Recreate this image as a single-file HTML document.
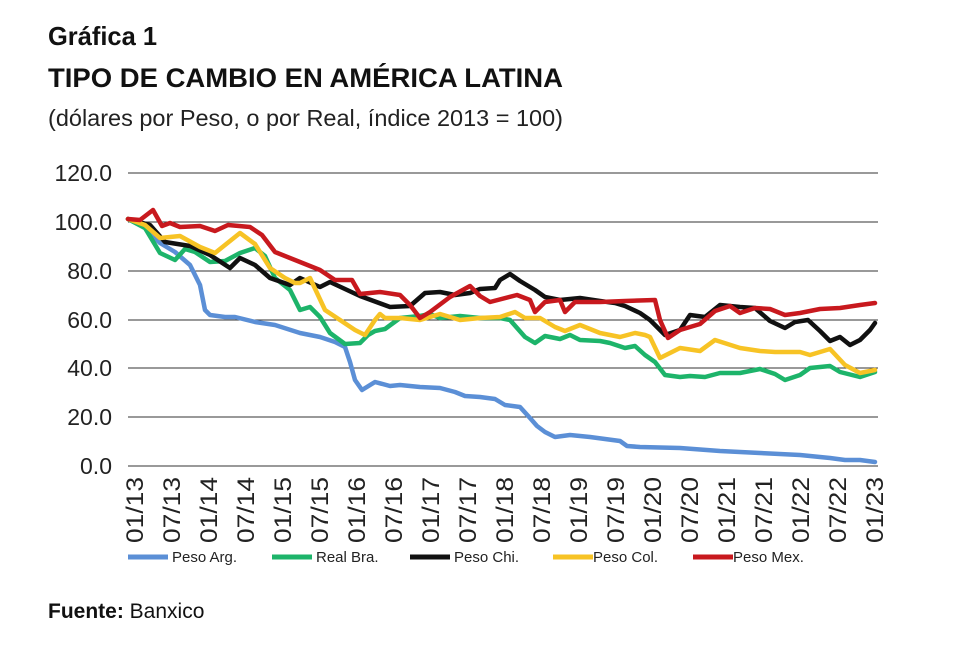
<!DOCTYPE html>
<html><head><meta charset="utf-8"><style>
body{margin:0;background:#fff;width:960px;height:640px;overflow:hidden;font-family:"Liberation Sans",sans-serif;}
</style></head><body>
<svg width="960" height="640" xmlns="http://www.w3.org/2000/svg" font-family="Liberation Sans, sans-serif">
<text x="48" y="45" font-size="26" font-weight="bold" fill="#111" textLength="109" lengthAdjust="spacingAndGlyphs">Gráfica 1</text>
<text x="48" y="87" font-size="27" font-weight="bold" fill="#111" textLength="515" lengthAdjust="spacingAndGlyphs">TIPO DE CAMBIO EN AMÉRICA LATINA</text>
<text x="48" y="126" font-size="23" fill="#222" textLength="515" lengthAdjust="spacingAndGlyphs">(dólares por Peso, o por Real, índice 2013 = 100)</text>
<g stroke="#333" stroke-width="1">
<line x1="128" x2="878" y1="173" y2="173"/><line x1="128" x2="878" y1="222" y2="222"/>
<line x1="128" x2="878" y1="271" y2="271"/><line x1="128" x2="878" y1="320" y2="320"/>
<line x1="128" x2="878" y1="368" y2="368"/><line x1="128" x2="878" y1="417" y2="417"/>
<line x1="128" x2="878" y1="466" y2="466"/>
</g>
<g font-size="23" fill="#222" text-anchor="end">
<text x="112" y="181">120.0</text><text x="112" y="230">100.0</text><text x="112" y="279">80.0</text>
<text x="112" y="328">60.0</text><text x="112" y="376">40.0</text><text x="112" y="425">20.0</text><text x="112" y="474">0.0</text>
</g>
<g font-size="24" fill="#222" text-anchor="end">
<text transform="translate(143,477) rotate(-90)" textLength="66" lengthAdjust="spacingAndGlyphs">01/13</text>
<text transform="translate(180,477) rotate(-90)" textLength="66" lengthAdjust="spacingAndGlyphs">07/13</text>
<text transform="translate(217,477) rotate(-90)" textLength="66" lengthAdjust="spacingAndGlyphs">01/14</text>
<text transform="translate(254,477) rotate(-90)" textLength="66" lengthAdjust="spacingAndGlyphs">07/14</text>
<text transform="translate(291,477) rotate(-90)" textLength="66" lengthAdjust="spacingAndGlyphs">01/15</text>
<text transform="translate(328,477) rotate(-90)" textLength="66" lengthAdjust="spacingAndGlyphs">07/15</text>
<text transform="translate(365,477) rotate(-90)" textLength="66" lengthAdjust="spacingAndGlyphs">01/16</text>
<text transform="translate(402,477) rotate(-90)" textLength="66" lengthAdjust="spacingAndGlyphs">07/16</text>
<text transform="translate(439,477) rotate(-90)" textLength="66" lengthAdjust="spacingAndGlyphs">01/17</text>
<text transform="translate(476,477) rotate(-90)" textLength="66" lengthAdjust="spacingAndGlyphs">07/17</text>
<text transform="translate(513,477) rotate(-90)" textLength="66" lengthAdjust="spacingAndGlyphs">01/18</text>
<text transform="translate(550,477) rotate(-90)" textLength="66" lengthAdjust="spacingAndGlyphs">07/18</text>
<text transform="translate(587,477) rotate(-90)" textLength="66" lengthAdjust="spacingAndGlyphs">01/19</text>
<text transform="translate(624,477) rotate(-90)" textLength="66" lengthAdjust="spacingAndGlyphs">07/19</text>
<text transform="translate(661,477) rotate(-90)" textLength="66" lengthAdjust="spacingAndGlyphs">01/20</text>
<text transform="translate(698,477) rotate(-90)" textLength="66" lengthAdjust="spacingAndGlyphs">07/20</text>
<text transform="translate(735,477) rotate(-90)" textLength="66" lengthAdjust="spacingAndGlyphs">01/21</text>
<text transform="translate(772,477) rotate(-90)" textLength="66" lengthAdjust="spacingAndGlyphs">07/21</text>
<text transform="translate(809,477) rotate(-90)" textLength="66" lengthAdjust="spacingAndGlyphs">01/22</text>
<text transform="translate(846,477) rotate(-90)" textLength="66" lengthAdjust="spacingAndGlyphs">07/22</text>
<text transform="translate(883,477) rotate(-90)" textLength="66" lengthAdjust="spacingAndGlyphs">01/23</text>
</g>
<g fill="none" stroke-width="4.5" stroke-linejoin="round" stroke-linecap="round">
<polyline stroke="#5b8fd6" points="128,219 145,228 160,243 175,252 190,265 200,285 205,310 210,315 225,317 235,317 255,322 275,325 300,333 320,337 335,342 345,347 350,362 355,380 362,390 375,382 390,386 400,385 420,387 440,388 455,392 465,396 480,397 495,399 505,405 520,407 530,418 537,426 545,432 555,437 570,435 590,437 605,439 620,441 627,446 640,447 680,448 720,451 760,453 800,455 830,458 845,460 860,460 875,462"/>
<polyline stroke="#1db46a" points="128,219 145,228 160,253 175,260 185,249 195,252 210,262 225,261 240,253 255,248 265,256 275,278 290,290 300,310 310,307 320,317 330,333 345,344 360,343 368,335 375,331 385,329 400,318 420,316 430,314 440,318 460,316 480,318 500,318 510,320 525,337 535,343 545,336 560,339 570,335 580,340 600,341 610,343 625,348 635,346 645,355 655,362 665,375 680,377 690,376 705,377 720,373 740,373 760,369 775,374 785,380 800,375 810,368 820,367 830,366 840,372 860,377 875,372"/>
<polyline stroke="#111" points="128,219 150,225 165,242 190,246 210,255 230,268 240,258 255,265 270,278 290,285 300,278 320,287 330,282 360,296 390,307 410,306 425,293 440,292 455,295 470,293 480,289 495,288 500,280 510,274 520,281 535,290 545,297 560,300 580,298 600,301 615,303 625,306 640,313 650,320 665,335 680,330 690,315 705,317 720,305 740,307 755,308 770,321 785,328 795,322 808,320 820,331 830,341 840,337 850,345 860,340 870,330 875,323"/>
<polyline stroke="#f7c325" points="128,219 145,225 160,238 180,236 200,247 215,253 235,237 240,233 255,244 270,268 285,278 295,283 300,283 310,278 325,310 340,320 355,330 365,335 375,320 380,314 385,318 400,318 420,320 440,314 460,320 480,318 500,317 515,312 525,318 540,318 555,327 565,331 580,325 600,333 620,337 635,333 645,335 650,337 660,358 680,348 700,351 715,340 740,348 760,351 775,352 800,352 810,355 830,349 845,365 860,373 875,370"/>
<polyline stroke="#c8191e" points="128,219 140,220 153,210 162,226 170,223 180,227 200,226 215,231 228,225 250,227 262,235 275,252 300,262 320,270 335,280 352,280 360,294 380,292 400,295 410,305 420,318 430,312 450,297 470,286 480,296 490,302 517,295 530,300 535,312 545,302 560,300 565,312 575,302 600,302 625,301 655,300 660,320 668,338 680,330 700,324 715,311 730,306 740,313 755,308 770,309 785,315 800,313 820,309 840,308 860,305 875,303"/>
</g>
<g font-size="15" fill="#222">
<line x1="128" x2="168" y1="557" y2="557" stroke="#5b8fd6" stroke-width="5"/><text x="172" y="562">Peso Arg.</text>
<line x1="272" x2="312" y1="557" y2="557" stroke="#1db46a" stroke-width="5"/><text x="316" y="562">Real Bra.</text>
<line x1="410" x2="450" y1="557" y2="557" stroke="#111" stroke-width="5"/><text x="454" y="562">Peso Chi.</text>
<line x1="553" x2="593" y1="557" y2="557" stroke="#f7c325" stroke-width="5"/><text x="593" y="562">Peso Col.</text>
<line x1="693" x2="733" y1="557" y2="557" stroke="#c8191e" stroke-width="5"/><text x="733" y="562">Peso Mex.</text>
</g>
<text x="48" y="618" font-size="21" fill="#111"><tspan font-weight="bold">Fuente:</tspan> Banxico</text>
</svg>
</body></html>
